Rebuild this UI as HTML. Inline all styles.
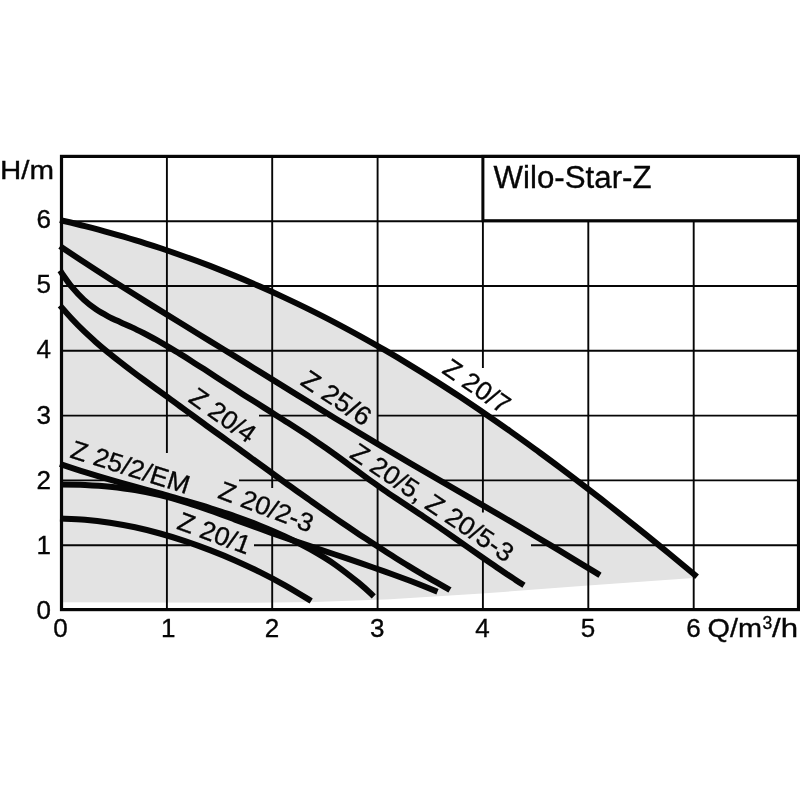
<!DOCTYPE html>
<html><head><meta charset="utf-8"><title>Wilo-Star-Z</title>
<style>
html,body{margin:0;padding:0;background:#fff;}
body{width:800px;height:800px;overflow:hidden;}
svg{display:block;}
text{font-family:"Liberation Sans",sans-serif;fill:#060606;}
</style></head><body>
<svg width="800" height="800" viewBox="0 0 800 800">
<rect width="800" height="800" fill="#fff"/>
<path d="M60.0 220.1C64.2 221.1 76.7 224.0 85.0 226.1C93.3 228.2 101.7 230.4 110.0 232.8C118.3 235.1 126.7 237.5 135.0 240.1C143.3 242.6 151.7 245.3 160.0 248.0C168.3 250.8 176.7 253.7 185.0 256.7C193.3 259.6 201.7 262.7 210.0 265.9C218.3 269.2 226.7 272.5 235.0 275.9C243.3 279.3 251.7 282.9 260.0 286.6C268.3 290.2 276.7 294.0 285.0 297.9C293.3 301.8 301.7 305.8 310.0 309.9C318.3 314.0 326.7 318.3 335.0 322.6C343.3 327.0 351.7 331.5 360.0 336.1C368.3 340.7 376.7 345.4 385.0 350.2C393.3 355.0 401.7 360.0 410.0 365.1C418.3 370.1 426.7 375.3 435.0 380.6C443.3 385.9 451.7 391.3 460.0 396.8C468.3 402.4 476.7 408.0 485.0 413.7C493.3 419.4 501.7 425.2 510.0 431.1C518.3 437.0 526.7 443.0 535.0 449.1C543.3 455.2 551.7 461.3 560.0 467.6C568.3 473.8 576.7 480.2 585.0 486.6C593.3 493.0 601.7 499.5 610.0 506.0C618.3 512.6 626.7 519.2 635.0 525.9C643.3 532.5 651.7 539.3 660.0 546.1C668.3 552.9 678.8 561.6 685.0 566.7C691.2 571.8 695.0 575.0 697.0 576.7 L697.0 577.8 L588.0 585.5 L482.0 593.5 L390.0 599.2 L315.0 602.0 L240.0 602.8 L61.5 602.3 Z" fill="#e3e3e3"/>
<g stroke="#060606" stroke-width="1.9" fill="none">
<line x1="166.9" y1="156.4" x2="166.9" y2="453.0"/>
<line x1="166.9" y1="495.0" x2="166.9" y2="609.6"/>
<line x1="272.2" y1="156.4" x2="272.2" y2="488.0"/>
<line x1="272.2" y1="534.0" x2="272.2" y2="609.6"/>
<line x1="377.6" y1="156.4" x2="377.6" y2="444.0"/>
<line x1="377.6" y1="486.0" x2="377.6" y2="609.6"/>
<line x1="482.9" y1="156.4" x2="482.9" y2="368.0"/>
<line x1="482.9" y1="412.0" x2="482.9" y2="512.5"/>
<line x1="482.9" y1="559.0" x2="482.9" y2="609.6"/>
<line x1="588.3" y1="156.4" x2="588.3" y2="609.6"/>
<line x1="693.7" y1="156.4" x2="693.7" y2="609.6"/>
<line x1="61.5" y1="545.2" x2="190.0" y2="545.2"/>
<line x1="254.0" y1="545.2" x2="463.0" y2="545.2"/>
<line x1="531.0" y1="545.2" x2="798.5" y2="545.2"/>
<line x1="61.5" y1="480.4" x2="111.0" y2="480.4"/>
<line x1="239.0" y1="480.4" x2="368.0" y2="480.4"/>
<line x1="442.5" y1="480.4" x2="798.5" y2="480.4"/>
<line x1="61.5" y1="415.6" x2="188.5" y2="415.6"/>
<line x1="259.0" y1="415.6" x2="326.0" y2="415.6"/>
<line x1="377.5" y1="415.6" x2="798.5" y2="415.6"/>
<line x1="61.5" y1="350.8" x2="798.5" y2="350.8"/>
<line x1="61.5" y1="286.0" x2="798.5" y2="286.0"/>
<line x1="61.5" y1="221.2" x2="798.5" y2="221.2"/>
</g>
<rect x="482.9" y="156.4" width="320" height="64.3" fill="#fff" stroke="#060606" stroke-width="3"/>
<rect x="61.5" y="156.4" width="737" height="453.2" fill="none" stroke="#060606" stroke-width="3.2"/>
<g stroke="#060606" stroke-width="6" fill="none" stroke-linecap="butt" stroke-linejoin="round">
<path d="M60.0 220.1C64.2 221.1 76.7 224.0 85.0 226.1C93.3 228.2 101.7 230.4 110.0 232.8C118.3 235.1 126.7 237.5 135.0 240.1C143.3 242.6 151.7 245.3 160.0 248.0C168.3 250.8 176.7 253.7 185.0 256.7C193.3 259.6 201.7 262.7 210.0 265.9C218.3 269.2 226.7 272.5 235.0 275.9C243.3 279.3 251.7 282.9 260.0 286.6C268.3 290.2 276.7 294.0 285.0 297.9C293.3 301.8 301.7 305.8 310.0 309.9C318.3 314.0 326.7 318.3 335.0 322.6C343.3 327.0 351.7 331.5 360.0 336.1C368.3 340.7 376.7 345.4 385.0 350.2C393.3 355.0 401.7 360.0 410.0 365.1C418.3 370.1 426.7 375.3 435.0 380.6C443.3 385.9 451.7 391.3 460.0 396.8C468.3 402.4 476.7 408.0 485.0 413.7C493.3 419.4 501.7 425.2 510.0 431.1C518.3 437.0 526.7 443.0 535.0 449.1C543.3 455.2 551.7 461.3 560.0 467.6C568.3 473.8 576.7 480.2 585.0 486.6C593.3 493.0 601.7 499.5 610.0 506.0C618.3 512.6 626.7 519.2 635.0 525.9C643.3 532.5 651.7 539.3 660.0 546.1C668.3 552.9 678.8 561.6 685.0 566.7C691.2 571.8 695.0 575.0 697.0 576.7"/>
<path d="M60.0 246.2C64.2 249.0 76.7 257.4 85.0 262.8C93.3 268.3 101.7 273.7 110.0 279.0C118.3 284.3 126.7 289.6 135.0 294.8C143.3 300.0 151.7 305.2 160.0 310.4C168.3 315.5 176.7 320.6 185.0 325.8C193.3 330.9 201.7 336.0 210.0 341.1C218.3 346.2 226.7 351.3 235.0 356.4C243.3 361.6 251.7 366.7 260.0 371.9C268.3 377.1 276.7 382.2 285.0 387.4C293.3 392.5 301.7 397.7 310.0 402.8C318.3 408.0 326.7 413.1 335.0 418.2C343.3 423.3 351.7 428.3 360.0 433.4C368.3 438.4 376.7 443.4 385.0 448.3C393.3 453.3 401.7 458.2 410.0 463.1C418.3 467.9 426.7 472.8 435.0 477.6C443.3 482.5 451.7 487.3 460.0 492.1C468.3 497.0 476.7 501.8 485.0 506.6C493.3 511.5 501.7 516.3 510.0 521.2C518.3 526.1 526.7 531.0 535.0 536.0C543.3 540.9 551.7 545.9 560.0 550.9C568.3 555.9 578.3 562.0 585.0 566.1C591.7 570.1 597.5 573.7 600.0 575.2"/>
<path d="M60.0 270.6C62.0 273.4 68.0 282.3 72.0 287.2C76.0 292.0 80.0 296.2 84.0 299.9C88.0 303.6 92.0 306.6 96.0 309.3C100.0 312.1 104.0 314.2 108.0 316.3C112.0 318.5 116.0 320.2 120.0 322.0C124.0 323.9 128.0 325.5 132.0 327.4C136.0 329.3 140.0 331.3 144.0 333.3C148.0 335.4 152.0 337.5 156.0 339.7C160.0 342.0 164.0 344.3 168.0 346.6C172.0 349.0 176.0 351.4 180.0 353.9C184.0 356.3 188.0 358.8 192.0 361.4C196.0 363.9 200.0 366.5 204.0 369.1C208.0 371.7 212.0 374.3 216.0 376.9C220.0 379.5 224.0 382.1 228.0 384.7C232.0 387.3 236.0 389.8 240.0 392.4C244.0 395.0 248.0 397.5 252.0 400.0C256.0 402.5 260.0 405.1 264.0 407.6C268.0 410.1 272.0 412.6 276.0 415.2C280.0 417.7 284.0 420.2 288.0 422.8C292.0 425.4 296.0 428.0 300.0 430.6C304.0 433.2 308.0 435.8 312.0 438.5C316.0 441.2 320.0 444.0 324.0 446.8C328.0 449.5 332.0 452.4 336.0 455.3C340.0 458.2 344.0 461.1 348.0 464.1C352.0 467.0 356.0 470.0 360.0 472.9C364.0 475.8 368.0 478.8 372.0 481.6C376.0 484.5 380.0 487.3 384.0 490.1C388.0 492.9 392.0 495.6 396.0 498.3C400.0 501.0 404.0 503.6 408.0 506.3C412.0 509.0 416.0 511.6 420.0 514.3C424.0 517.0 428.0 519.6 432.0 522.4C436.0 525.1 440.0 527.8 444.0 530.6C448.0 533.4 452.0 536.2 456.0 539.0C460.0 541.8 464.0 544.6 468.0 547.4C472.0 550.2 476.0 553.0 480.0 555.8C484.0 558.6 488.0 561.4 492.0 564.1C496.0 566.9 500.0 569.6 504.0 572.3C508.0 575.0 512.7 578.0 516.0 580.2C519.3 582.4 522.7 584.5 524.0 585.3"/>
<path d="M60.0 305.5C62.0 307.7 68.0 314.7 72.0 319.0C76.0 323.3 80.0 327.3 84.0 331.2C88.0 335.0 92.0 338.6 96.0 342.2C100.0 345.7 104.0 349.1 108.0 352.4C112.0 355.7 116.0 358.8 120.0 361.9C124.0 365.1 128.0 368.1 132.0 371.1C136.0 374.1 140.0 377.0 144.0 380.0C148.0 382.9 152.0 385.8 156.0 388.7C160.0 391.6 164.0 394.5 168.0 397.4C172.0 400.4 176.0 403.3 180.0 406.2C184.0 409.1 188.0 412.1 192.0 415.0C196.0 417.9 200.0 420.8 204.0 423.7C208.0 426.7 212.0 429.6 216.0 432.5C220.0 435.4 224.0 438.2 228.0 441.1C232.0 444.0 236.0 446.9 240.0 449.8C244.0 452.8 248.0 455.7 252.0 458.6C256.0 461.5 260.0 464.4 264.0 467.3C268.0 470.2 272.0 473.1 276.0 476.0C280.0 478.9 284.0 481.8 288.0 484.7C292.0 487.5 296.0 490.4 300.0 493.3C304.0 496.1 308.0 498.9 312.0 501.8C316.0 504.6 320.0 507.4 324.0 510.2C328.0 513.0 332.0 515.8 336.0 518.6C340.0 521.3 344.0 524.1 348.0 526.8C352.0 529.5 356.0 532.2 360.0 534.9C364.0 537.5 368.0 540.2 372.0 542.8C376.0 545.4 380.0 548.0 384.0 550.6C388.0 553.2 392.0 555.7 396.0 558.2C400.0 560.7 404.0 563.2 408.0 565.6C412.0 568.1 416.0 570.5 420.0 572.8C424.0 575.2 428.0 577.5 432.0 579.8C436.0 582.1 441.0 584.9 444.0 586.6C447.0 588.3 449.0 589.3 450.0 589.9"/>
<path d="M60.0 464.0C64.2 465.4 76.7 469.6 85.0 472.2C93.3 474.8 101.7 477.3 110.0 479.7C118.3 482.1 126.7 484.4 135.0 486.7C143.3 489.0 151.7 491.2 160.0 493.5C168.3 495.9 176.7 498.1 185.0 500.6C193.3 503.0 201.7 505.4 210.0 508.0C218.3 510.7 226.7 513.4 235.0 516.3C243.3 519.2 251.7 522.3 260.0 525.7C268.3 529.0 276.7 532.5 285.0 536.5C293.3 540.4 301.7 544.5 310.0 549.2C318.3 553.9 326.7 558.8 335.0 564.6C343.3 570.4 353.5 578.6 360.0 583.8C366.5 589.1 371.5 594.3 373.8 596.4"/>
<path d="M60.0 484.6C64.2 484.6 76.7 484.6 85.0 485.0C93.3 485.4 101.7 485.9 110.0 486.8C118.3 487.7 126.7 488.7 135.0 490.1C143.3 491.5 151.7 493.2 160.0 495.2C168.3 497.2 176.7 499.5 185.0 502.1C193.3 504.6 201.7 507.5 210.0 510.4C218.3 513.3 226.7 516.5 235.0 519.6C243.3 522.6 251.7 525.8 260.0 528.8C268.3 531.8 276.7 534.8 285.0 537.7C293.3 540.6 301.7 543.4 310.0 546.2C318.3 549.0 326.7 551.7 335.0 554.5C343.3 557.3 351.7 560.1 360.0 562.9C368.3 565.8 376.7 568.7 385.0 571.6C393.3 574.6 401.2 577.5 410.0 580.8C418.8 584.2 432.9 589.9 437.5 591.7"/>
<path d="M60.0 518.6C64.2 518.8 76.7 519.1 85.0 519.8C93.3 520.4 101.7 521.4 110.0 522.7C118.3 524.0 126.7 525.5 135.0 527.3C143.3 529.1 151.7 531.2 160.0 533.5C168.3 535.8 176.7 538.3 185.0 541.1C193.3 543.9 201.7 546.9 210.0 550.1C218.3 553.3 226.7 556.7 235.0 560.4C243.3 564.1 251.7 567.9 260.0 572.1C268.3 576.2 276.5 580.5 285.0 585.3C293.5 590.1 306.9 598.4 311.2 601.0"/>
</g>
<g stroke="#060606" stroke-width="0.35">
<text transform="translate(440.9 372.3) rotate(34.5)" font-size="26.0" textLength="75.0" lengthAdjust="spacingAndGlyphs">Z 20/7</text>
<text transform="translate(299.2 384.0) rotate(33.5)" font-size="26.0" textLength="77.5" lengthAdjust="spacingAndGlyphs">Z 25/6</text>
<text transform="translate(348.4 456.7) rotate(34.0)" font-size="26.0" textLength="190.3" lengthAdjust="spacingAndGlyphs">Z 20/5, Z 20/5-3</text>
<text transform="translate(187.2 401.0) rotate(35.3)" font-size="26.0" textLength="74.5" lengthAdjust="spacingAndGlyphs">Z 20/4</text>
<text transform="translate(69.1 457.2) rotate(17.5)" font-size="26.0" textLength="123.0" lengthAdjust="spacingAndGlyphs">Z 25/2/EM</text>
<text transform="translate(216.8 497.6) rotate(20.8)" font-size="26.0" textLength="99.0" lengthAdjust="spacingAndGlyphs">Z 20/2-3</text>
<text transform="translate(175.8 528.6) rotate(20.2)" font-size="26.0" textLength="75.6" lengthAdjust="spacingAndGlyphs">Z 20/1</text>
<text x="493.6" y="188" font-size="31" textLength="158" lengthAdjust="spacingAndGlyphs">Wilo-Star-Z</text>
<text x="0" y="179" font-size="26" textLength="54" lengthAdjust="spacingAndGlyphs">H/m</text>
<text x="51" y="619.2" font-size="26" text-anchor="end">0</text>
<text x="51" y="554.0" font-size="26" text-anchor="end">1</text>
<text x="51" y="488.8" font-size="26" text-anchor="end">2</text>
<text x="51" y="423.6" font-size="26" text-anchor="end">3</text>
<text x="51" y="358.4" font-size="26" text-anchor="end">4</text>
<text x="51" y="293.2" font-size="26" text-anchor="end">5</text>
<text x="51" y="228.0" font-size="26" text-anchor="end">6</text>
<text x="60.4" y="636.7" font-size="26" text-anchor="middle">0</text>
<text x="168.2" y="636.7" font-size="26" text-anchor="middle">1</text>
<text x="271.9" y="636.7" font-size="26" text-anchor="middle">2</text>
<text x="377.3" y="636.7" font-size="26" text-anchor="middle">3</text>
<text x="482.6" y="636.7" font-size="26" text-anchor="middle">4</text>
<text x="588.0" y="636.7" font-size="26" text-anchor="middle">5</text>
<text x="693.4" y="636.7" font-size="26" text-anchor="middle">6</text>
<text x="707.5" y="637.3" font-size="26" textLength="54.5" lengthAdjust="spacingAndGlyphs">Q/m</text>
<text x="762.6" y="629.4" font-size="17.5">3</text>
<text x="772" y="637.3" font-size="26" textLength="26" lengthAdjust="spacingAndGlyphs">/h</text>
</g>
</svg></body></html>
